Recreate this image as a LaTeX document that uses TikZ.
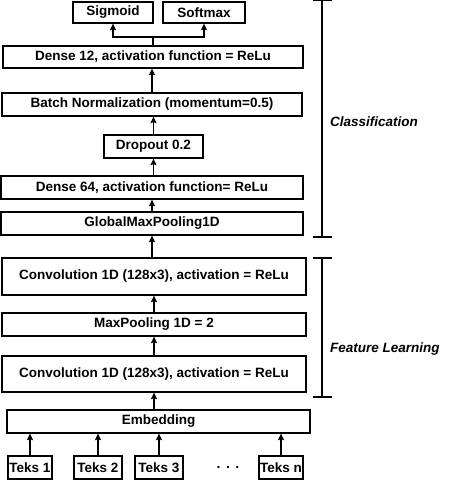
\documentclass[tikz,border=0pt]{standalone}
\usepackage{fontspec}
\setmainfont{Liberation Sans}
\usetikzlibrary{arrows.meta}
\begin{document}
\begin{tikzpicture}[x=1pt,y=-1pt,
  box/.style={draw,line width=1.3pt,inner sep=0pt,minimum height=23pt,
    font=\fontsize{13.5}{16}\selectfont\bfseries},
  arr/.style={line width=1.2pt,-{Stealth[length=6.5pt,width=6pt,inset=1pt]}},
  brk/.style={line width=1.3pt},
  lbl/.style={anchor=west,inner sep=0pt,font=\fontsize{13.5}{16}\selectfont\bfseries\itshape}]
\useasboundingbox (0,0) rectangle (453,480);
% nodes
\node[box,minimum width=80pt,minimum height=21pt] (sig) at (113,12.5) {Sigmoid};
\node[box,minimum width=82pt,minimum height=21pt] (soft) at (204,12.5) {Softmax};
\node[box,minimum width=300pt,minimum height=22pt] (d12) at (153,57) {Dense 12, activation function = ReLu};
\node[box,minimum width=300pt] (bn) at (152,104.5) {Batch Normalization (momentum=0.5)};
\node[box,minimum width=99pt] (drop) at (153.5,146.5) {Dropout 0.2};
\node[box,minimum width=302pt] (d64) at (152,187.5) {Dense 64, activation function= ReLu};
\node[box,minimum width=302pt] (gmp) at (152,223.5) {GlobalMaxPooling1D};
\node[box,minimum width=304pt,minimum height=37pt] (c1) at (154,276.5) {Convolution 1D (128x3), activation = ReLu};
\node[box,minimum width=304pt] (mp) at (154,324.5) {MaxPooling 1D = 2};
\node[box,minimum width=304pt,minimum height=36pt] (c2) at (154,374) {Convolution 1D (128x3), activation = ReLu};
\node[box,minimum width=303pt] (emb) at (158.5,421.5) {Embedding};
\node[box,minimum width=44pt] (t1) at (30,467.5) {Teks 1};
\node[box,minimum width=48pt] (t2) at (98,467.5) {Teks 2};
\node[box,minimum width=48pt] (t3) at (159,467.5) {Teks 3};
\node[box,minimum width=44pt] (tn) at (281,467.5) {Teks n};
\node[inner sep=0pt,font=\fontsize{14}{16}\selectfont\bfseries] (dots) at (228,467) {.\hspace{5.5pt}.\hspace{5.5pt}.};
% connectors
\coordinate (j) at (153,37);
\draw[line width=1.2pt] (d12.north) -- (j);
\draw[arr] (j) -| (sig.south);
\draw[arr] (j) -| (soft.south);
\draw[arr] (bn.north) -- (bn.north |- d12.south);
\draw[arr] (drop.north) -- (drop.north |- bn.south);
\draw[arr] (d64.north -| drop.north) -- (drop.south);
\draw[arr] (gmp.north) -- (d64.south);
\draw[arr] (c1.north -| gmp.north) -- (gmp.south);
\draw[arr] (mp.north) -- (c1.south);
\draw[arr] (c2.north) -- (mp.south);
\draw[arr] (emb.north -| c2.north) -- (c2.south);
\draw[arr] (t1.north) -- (t1.north |- emb.south);
\draw[arr] (t2.north) -- (t2.north |- emb.south);
\draw[arr] (t3.north) -- (t3.north |- emb.south);
\draw[arr] (tn.north) -- (tn.north |- emb.south);
% brackets
\coordinate (ca) at (322,0.7);
\coordinate (cb) at (322,237);
\coordinate (fa) at (322,258);
\coordinate (fb) at (322,397);
\draw[brk] (ca) -- (cb);
\draw[brk] ([xshift=-9pt]ca) -- ([xshift=10pt]ca);
\draw[brk] ([xshift=-9pt]cb) -- ([xshift=10pt]cb);
\draw[brk] (fa) -- (fb);
\draw[brk] ([xshift=-9pt]fa) -- ([xshift=10pt]fa);
\draw[brk] ([xshift=-9pt]fb) -- ([xshift=10pt]fb);
\node[lbl] (cls) at (330,122) {Classification};
\node[lbl] (feat) at (330,349) {Feature Learning};
\end{tikzpicture}
\end{document}
